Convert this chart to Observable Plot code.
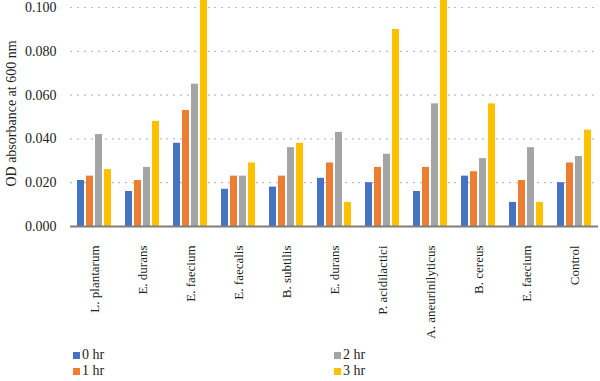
<!DOCTYPE html>
<html>
<head>
<meta charset="utf-8">
<script src="https://cdn.jsdelivr.net/npm/d3@7"></script>
<script src="https://cdn.jsdelivr.net/npm/@observablehq/plot@0.6"></script>
<style>
  html, body { margin: 0; padding: 0; background: #fff; }
  #wrap { width: 600px; height: 381px; font-family: "Liberation Serif", "Times New Roman", serif; color: #222; }
  #chart svg text { font-family: "Liberation Serif", "Times New Roman", serif !important; font-size: 14px !important; fill: #222; }
  #chart svg g[aria-label="fx-axis tick label"] text { font-size: 13px !important; }
  #legend { display: grid; grid-template-columns: 261px auto; margin-left: 73px; padding-top: 2px; font-size: 14px; line-height: 16px; }
  .item { display: flex; align-items: center; }
  .sw { width: 7px; height: 7px; margin-right: 2px; display: inline-block; }
</style>
</head>
<body>
<div id="wrap"><div id="chart"></div><div id="legend"></div></div>
<script>
const categories = ["L. plantarum", "E. durans", "E. faecium", "E. faecalis", "B. subtilis", "E. durans", "P. acidilactici", "A. aneurinilyticus", "B. cereus", "E. faecium", "Control"];
const series = ["0 hr", "1 hr", "2 hr", "3 hr"];
const hr0 = [0.021, 0.016, 0.038, 0.017, 0.018, 0.022, 0.020, 0.016, 0.023, 0.011, 0.020];
const hr1 = [0.023, 0.021, 0.053, 0.023, 0.023, 0.029, 0.027, 0.027, 0.025, 0.021, 0.029];
const hr2 = [0.042, 0.027, 0.065, 0.023, 0.036, 0.043, 0.033, 0.056, 0.031, 0.036, 0.032];
const hr3 = [0.026, 0.048, 0.105, 0.029, 0.038, 0.011, 0.090, 0.105, 0.056, 0.011, 0.044];
const yTicks = [0, 0.02, 0.04, 0.06, 0.08, 0.1];
const colors = ["#4472C4", "#ED7D31", "#A5A5A5", "#FFC000"];

const seriesValues = [hr0, hr1, hr2, hr3];
const data = categories.flatMap((c, i) => series.map((s, j) => ({group: i, series: s, value: seriesValues[j][i]})));

const chart = Plot.plot({
  width: 600,
  height: 345,
  marginLeft: 68,
  marginRight: 0,
  marginTop: 0,
  marginBottom: 119,
  style: {fontFamily: "Liberation Serif, Times New Roman, serif", fontSize: "14px", background: "white", color: "#222"},
  y: {domain: [0, 0.1032], ticks: yTicks, tickFormat: ".3f", tickSize: 0, tickPadding: 14, label: "OD absorbance at 600 nm", labelAnchor: "center", labelArrow: "none", labelOffset: 64},
  fx: {domain: d3.range(categories.length), padding: 0, tickFormat: i => categories[i], tickRotate: -90, tickSize: 0, tickPadding: 19, label: null},
  x: {domain: series, paddingInner: 0.2, paddingOuter: 0.75, axis: null},
  color: {domain: series, range: colors},
  marks: [
    Plot.ruleY(yTicks.slice(1), {stroke: "#bdbdbd", strokeWidth: 1.2, strokeDasharray: "2,5"}),
    Plot.barY(data, {fx: "group", x: "series", y: "value", fill: "series", clip: true}),
    Plot.ruleY([0], {stroke: "#7f7f7f", strokeWidth: 2})
  ]
});
document.getElementById("chart").appendChild(chart);

const legend = document.getElementById("legend");
const order = [0, 2, 1, 3];
for (const j of order) {
  const d = document.createElement("div");
  d.className = "item";
  d.innerHTML = `<span class="sw" style="background:${colors[j]}"></span><span>${series[j]}</span>`;
  legend.appendChild(d);
}
</script>
</body>
</html>
